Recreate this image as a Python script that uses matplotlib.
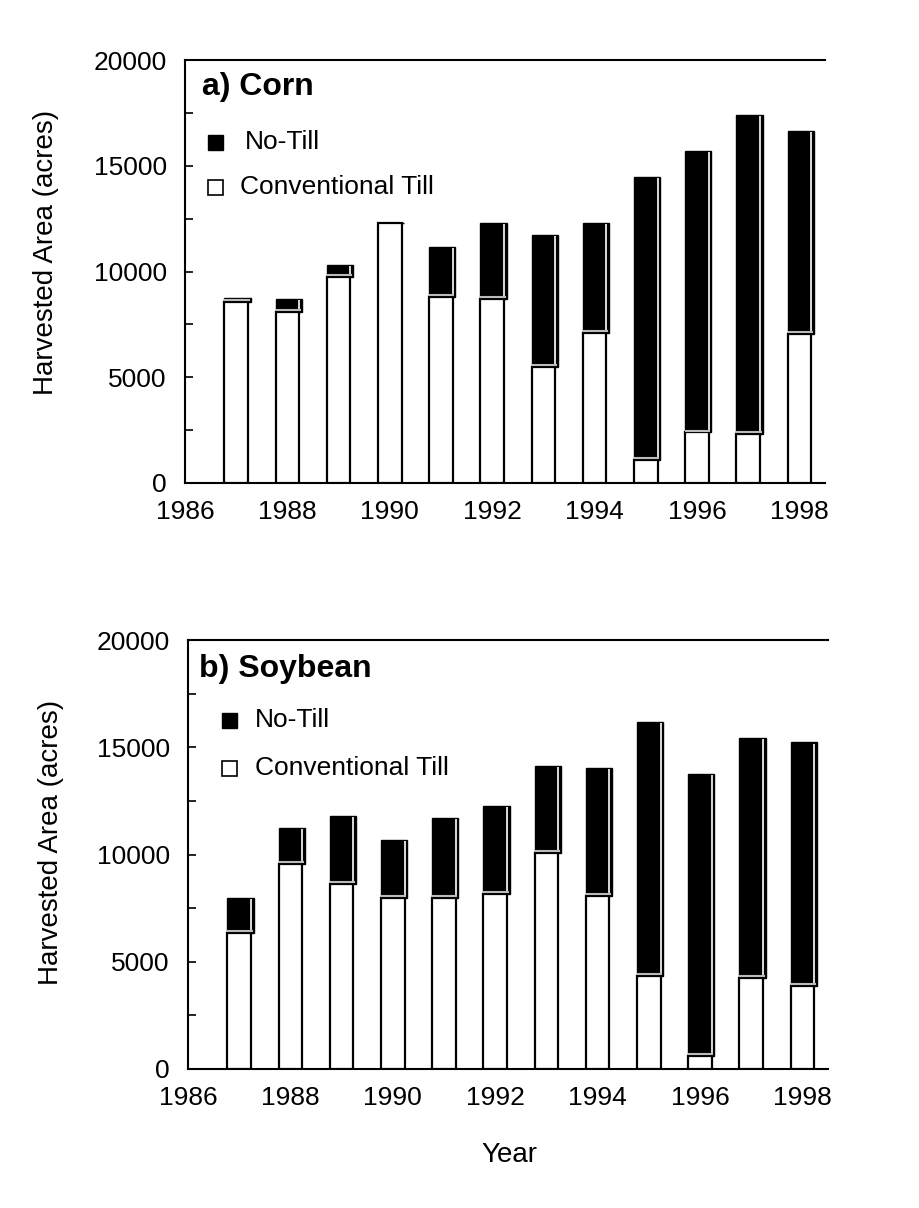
import matplotlib
matplotlib.use("Agg")
import matplotlib.pyplot as plt
import numpy as np
from matplotlib.ticker import MultipleLocator
from matplotlib.patches import Rectangle

years = [1987, 1988, 1989, 1990, 1991, 1992, 1993, 1994, 1995, 1996, 1997, 1998]

corn_conventional = [8550, 8100, 9750, 12300, 8800, 8700, 5500, 7100, 1070, 2390, 2340, 7050]
corn_total = [8750, 8720, 10320, 12300, 11150, 12300, 11740, 12300, 14470, 15700, 17390, 16650]

soy_conventional = [6360, 9550, 8610, 7990, 7990, 8140, 10090, 8070, 4330, 590, 4250, 3860]
soy_total = [7990, 11240, 11800, 10680, 11700, 12270, 14140, 14030, 16170, 13750, 15430, 15230]

panel_titles = ["a) Corn", "b) Soybean"]
legend_labels = ["No-Till", "Conventional Till"]
ylabel = "Harvested Area (acres)"
xlabel = "Year"

font = ['Liberation Sans', 'DejaVu Sans']

W, H = 919, 1208
fig = plt.figure(figsize=(W / 100, H / 100), dpi=100)
fig.patch.set_facecolor("white")

# axes boxes in pixels: left, right, top, bottom
boxes = [(185, 825, 60, 483), (188, 828, 640, 1069)]
# legend/title positions in pixels
title_pos = [(202, 87), (199, 669)]
sq_pos = [(215, 142, 187), (229, 720, 768)]
txt_x = [(245, 240), (255, 255)]
ylabel_pos = [(46, 252), (51, 842)]

datasets = [(corn_conventional, corn_total), (soy_conventional, soy_total)]
width = 0.46
shift = 0.05

def fx(px):
    return px / W

def fy(py):
    return 1 - py / H

for i, (box, (conv, total)) in enumerate(zip(boxes, datasets)):
    l, r, t, b = box
    ax = fig.add_axes([fx(l), fy(b), (r - l) / W, (b - t) / H])
    x = np.array(years, dtype=float)
    conv = np.array(conv, dtype=float)
    total = np.array(total, dtype=float)
    notill = total - conv
    ax.bar(x + shift / 2, notill, bottom=conv, width=width + shift,
           color="black", edgecolor="black", linewidth=1.0, zorder=2)
    ax.bar(x, conv, width=width, color="white", edgecolor="black",
           linewidth=1.6, zorder=3)
    mask = notill > 0
    ax.vlines(x[mask] + width / 2, conv[mask] + 60, total[mask] - 60,
              colors="white", linewidth=1.2, zorder=4)
    ax.hlines(conv[mask] + 90, x[mask] - width / 2, x[mask] + width / 2 + shift * 0.6,
              colors="#bbbbbb", linewidth=1.5, zorder=4)

    ax.set_xlim(1986, 1998.5)
    ax.set_ylim(0, 20000)
    ax.xaxis.set_major_locator(MultipleLocator(2))
    ax.xaxis.set_minor_locator(MultipleLocator(1))
    ax.yaxis.set_major_locator(MultipleLocator(5000))
    ax.yaxis.set_minor_locator(MultipleLocator(2500))
    ax.tick_params(axis="both", which="both", direction="in", length=6,
                   width=1.2, top=False, right=False)
    ax.tick_params(axis="x", which="major", pad=12)
    ax.tick_params(axis="y", which="major", pad=13)
    for lab in ax.get_xticklabels() + ax.get_yticklabels():
        lab.set_family(font)
        lab.set_fontsize(19)
    ax.spines["right"].set_visible(False)
    for s in ["left", "bottom", "top"]:
        ax.spines[s].set_linewidth(1.5)

    tx, ty = title_pos[i]
    fig.text(fx(tx), fy(ty), panel_titles[i], family=font, fontsize=23,
             fontweight="bold", va="center", ha="left")
    sx, y1, y2 = sq_pos[i]
    s = 15
    fig.patches.append(Rectangle((fx(sx - s / 2), fy(y1 + s / 2)), s / W, s / H,
                                 transform=fig.transFigure, facecolor="black",
                                 edgecolor="black", lw=1, zorder=5))
    fig.patches.append(Rectangle((fx(sx - s / 2), fy(y2 + s / 2)), s / W, s / H,
                                 transform=fig.transFigure, facecolor="white",
                                 edgecolor="black", lw=1.2, zorder=5))
    fig.text(fx(txt_x[i][0]), fy(y1), legend_labels[0], family=font, fontsize=19,
             va="center", ha="left")
    fig.text(fx(txt_x[i][1]), fy(y2), legend_labels[1], family=font, fontsize=19,
             va="center", ha="left")
    lx, ly = ylabel_pos[i]
    fig.text(fx(lx), fy(ly), ylabel, family=font, fontsize=20, rotation=90,
             va="center", ha="center")

fig.text(fx(509), fy(1155), xlabel, family=font, fontsize=20, va="center", ha="center")

fig.savefig("out.png", dpi=100, facecolor="white")
